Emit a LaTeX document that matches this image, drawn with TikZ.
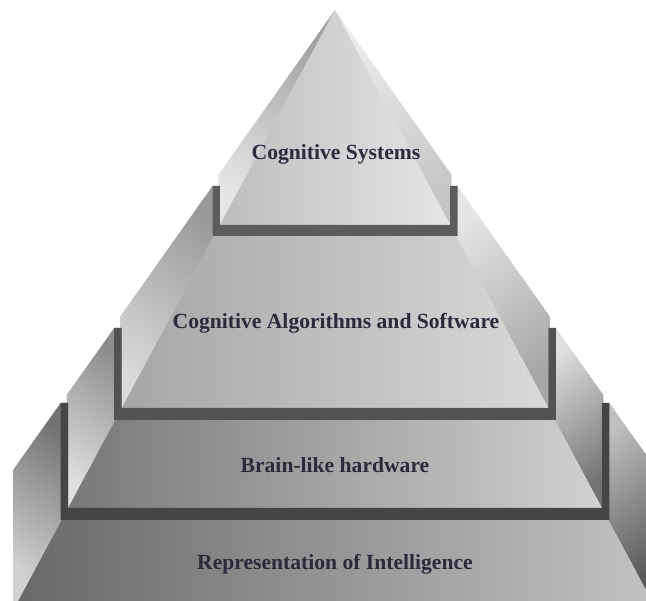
\documentclass[tikz,border=0pt]{standalone}
\usepackage{fontspec}
\setmainfont{Liberation Serif}
\definecolor{stepink}{HTML}{2B2B3B}
\tikzset{
  lwing/.style 2 args={top color=#1, bottom color=#2, shading angle=-35},
  rwing/.style 2 args={top color=#1, bottom color=#2, shading angle=35},
  stepface/.style 2 args={left color=#1, right color=#2},
}
\begin{document}
\begin{tikzpicture}[x=1pt,y=-1pt]
  \tikzstyle{steptext}=[font=\fontsize{21.6}{26}\selectfont\bfseries, text=stepink]
  \useasboundingbox (0,0) rectangle (646,601);
  \clip (0,0) rectangle (646,601);
  % side wings
  \shade[lwing={gray!75}{gray!20}] (335,10) -- (218.3,175) -- (218.3,225) -- (219.8,225) -- cycle;
  \shade[rwing={gray!15}{gray!45}] (335,10) -- (451.7,175) -- (451.7,225) -- (450.2,225) -- cycle;
  \shade[lwing={gray!80}{gray!30}] (212.5,186) -- (120.2,316.5) -- (120.2,408) -- (121.7,408) -- (219.8,225) -- (219.8,186) -- cycle;
  \shade[rwing={gray!20}{gray!70}] (457.5,186) -- (549.8,316.5) -- (549.8,408) -- (548.3,408) -- (450.2,225) -- (450.2,186) -- cycle;
  \shade[lwing={gray!90}{gray!25}] (114.2,328) -- (66.6,395) -- (66.6,508) -- (68.1,508) -- (121.7,408) -- (121.7,328) -- cycle;
  \shade[rwing={gray!25}{black!55}] (555.8,328) -- (603.4,395) -- (603.4,508) -- (601.9,508) -- (548.3,408) -- (548.3,328) -- cycle;
  \shade[lwing={black!55}{black!18}] (60.6,403) -- (13,470) -- (13,601) -- (18.2,601) -- (68.1,508) -- (68.1,403) -- cycle;
  \shade[rwing={black!25}{black!65}] (609.4,403) -- (657,470) -- (657,601) -- (651.8,601) -- (601.9,508) -- (601.9,403) -- cycle;
  % faces
  \shade[stepface={black!26}{black!10}] (335,10) -- (219.8,225) -- (450.2,225) -- cycle;
  \shade[stepface={black!35}{black!15}] (213.9,236) -- (121.7,408) -- (548.3,408) -- (456.1,236) -- cycle;
  \shade[stepface={black!53}{black!18}] (115.2,420) -- (68.1,508) -- (601.9,508) -- (554.8,420) -- cycle;
  \shade[stepface={black!59}{black!24}] (61.6,520) -- (18.2,601) -- (651.8,601) -- (608.4,520) -- cycle;
  % dark steps
  \fill[black!64] (212.5,186) -- (212.5,236) -- (457.5,236) -- (457.5,186) -- (450.2,186) -- (450.2,225) -- (219.8,225) -- (219.8,186) -- cycle;
  \fill[black!68] (114.2,328) -- (114.2,420) -- (555.8,420) -- (555.8,328) -- (548.3,328) -- (548.3,408) -- (121.7,408) -- (121.7,328) -- cycle;
  \fill[black!73] (60.6,403) -- (60.6,520) -- (609.4,520) -- (609.4,403) -- (601.9,403) -- (601.9,508) -- (68.1,508) -- (68.1,403) -- cycle;
  % labels
  \node[steptext] (sys) at (336,154) {Cognitive Systems};
  \node[steptext] (alg) at (336,323) {Cognitive Algorithms and Software};
  \node[steptext] (hw) at (335,465) {Brain-like hardware};
  \node[steptext] (rep) at (335,564) {Representation of Intelligence};
\end{tikzpicture}
\end{document}
